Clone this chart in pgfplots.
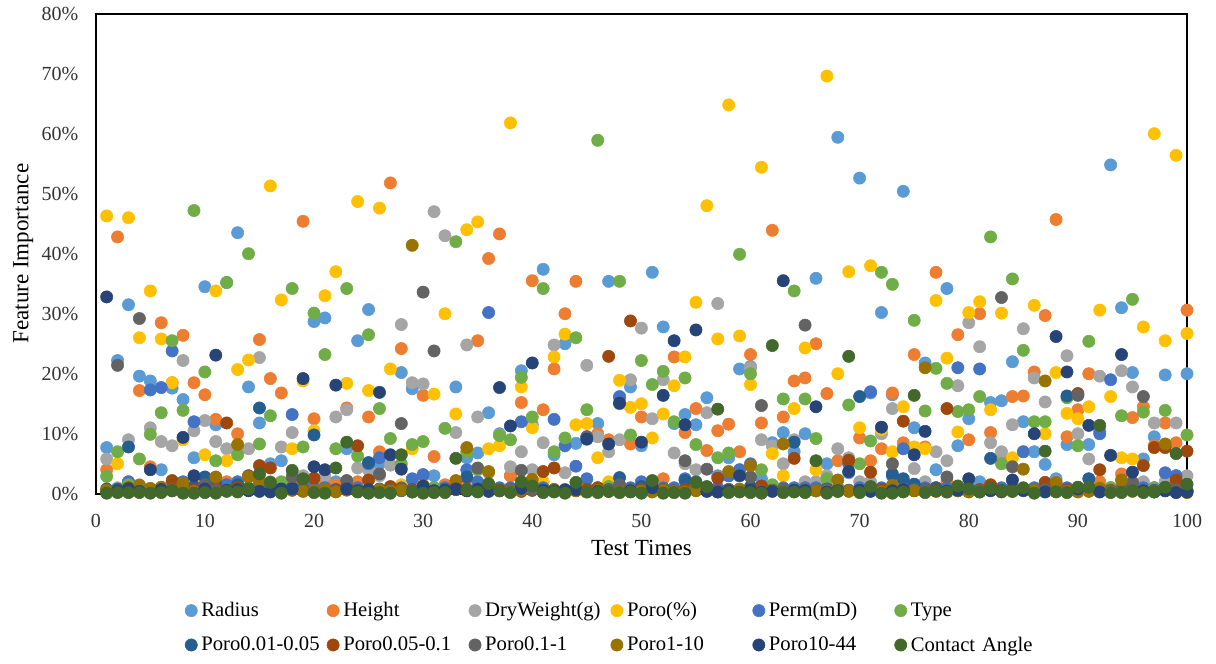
\documentclass[border=0pt]{standalone}
\usepackage{fontspec}
\setmainfont{Liberation Serif}
\usepackage{pgfplots}
\pgfplotsset{compat=1.18}
\definecolor{c1}{HTML}{5B9BD5}
\definecolor{c2}{HTML}{ED7D31}
\definecolor{c3}{HTML}{A5A5A5}
\definecolor{c4}{HTML}{FFC000}
\definecolor{c5}{HTML}{4472C4}
\definecolor{c6}{HTML}{70AD47}
\definecolor{c7}{HTML}{255E91}
\definecolor{c8}{HTML}{9E480E}
\definecolor{c9}{HTML}{636363}
\definecolor{c10}{HTML}{997300}
\definecolor{c11}{HTML}{264478}
\definecolor{c12}{HTML}{43682B}
\pgfplotsset{ser/.style={only marks,mark=*,mark size=4.6pt,mark options={draw=none,fill=#1},color=#1}}
\begin{document}
\begin{tikzpicture}
\path[use as bounding box] (-71.8pt,-127pt) rectangle (840pt,370.25pt);
\begin{axis}[
  at={(0pt,0pt)},anchor=south west,
  scale only axis,width=818.25pt,height=360pt,
  xmin=0,xmax=100,ymin=0,ymax=80,
  xtick={0,10,...,100},ytick={0,10,...,80},
  yticklabel={\pgfmathprintnumber{\tick}\%},
  /pgf/number format/assume math mode=true,
  tick style={draw=none},
  axis line style={black,line width=1.6pt},
  clip=false,
  tick label style={font=\fontsize{15}{16}\selectfont,text=black!80},
  xticklabel style={yshift=-11.5pt},
  yticklabel style={xshift=-9.5pt},
  xlabel={Test Times},ylabel={Feature Importance},
  label style={font=\fontsize{17.3}{19}\selectfont,text=black},
  xlabel style={yshift=-3pt},
  ylabel style={yshift=-0.5pt},
  legend columns=6,
  legend cell align=left,
  legend image code/.code={\draw[#1] plot coordinates {(0pt,0pt)};},
  legend style={at={(67pt,-79.5pt)},anchor=north west,draw=none,fill=none,inner sep=0pt,outer sep=0pt,
    font=\fontsize{15.5}{17}\selectfont,row sep=9.5pt,
    nodes={text width=91.2pt,inner xsep=3pt,inner ysep=2pt,anchor=west}},
]
\addplot[ser=c1] coordinates {(1,7.7)(2,22.2)(3,31.5)(4,19.6)(5,18.8)(6,4)(7,17.6)(8,15.7)(9,6)(10,34.5)(11,11.5)(12,35.2)(13,43.5)(14,17.8)(15,11.8)(16,5)(17,5.5)(18,1.5)(19,0.8)(20,28.7)(21,29.3)(22,2)(23,7.5)(24,25.5)(25,30.7)(26,5)(27,4.8)(28,20.2)(29,17.5)(30,2.9)(31,3)(32,0.5)(33,17.8)(34,6)(35,6.8)(36,13.5)(37,10)(38,3)(39,20.5)(40,11.5)(41,37.4)(42,6.5)(43,25)(44,8.4)(45,9.5)(46,11.7)(47,35.4)(48,16)(49,17.8)(50,8)(51,36.9)(52,27.8)(53,11.7)(54,13.2)(55,11.5)(56,16)(57,3)(58,6)(59,20.8)(60,21.2)(61,2.5)(62,8.5)(63,10.2)(64,7)(65,10)(66,35.9)(67,5)(68,59.4)(69,3.5)(70,52.6)(71,16.8)(72,30.2)(73,16.5)(74,50.4)(75,11)(76,21.8)(77,4)(78,34.2)(79,8)(80,12.5)(81,2)(82,15.2)(83,15.5)(84,22)(85,12)(86,7)(87,4.9)(88,2.5)(89,8.2)(90,16.5)(91,8.2)(92,10.5)(93,54.8)(94,31)(95,20.2)(96,5.8)(97,9.5)(98,19.8)(99,3)(100,20)};
\addlegendentry{Radius}
\addplot[ser=c2] coordinates {(1,4)(2,42.8)(3,2)(4,17.2)(5,4.5)(6,28.5)(7,18.5)(8,26.4)(9,18.5)(10,16.5)(11,12.4)(12,2)(13,10)(14,3)(15,25.7)(16,19.2)(17,16.8)(18,2)(19,45.4)(20,12.5)(21,2)(22,1.5)(23,14.3)(24,2)(25,12.8)(26,7)(27,51.8)(28,24.2)(29,1.5)(30,16.4)(31,6.2)(32,1.5)(33,1.5)(34,2.5)(35,25.5)(36,39.2)(37,43.3)(38,3)(39,15.2)(40,35.5)(41,14)(42,20.8)(43,30)(44,35.4)(45,1)(46,10)(47,9)(48,15)(49,8.3)(50,12.8)(51,1.5)(52,2.5)(53,22.8)(54,10.2)(55,14.2)(56,7.2)(57,10.5)(58,11.6)(59,7)(60,23.2)(61,11.8)(62,43.9)(63,12.8)(64,18.8)(65,19.3)(66,25)(67,16.7)(68,5.5)(69,5.5)(70,9.3)(71,5.5)(72,7.5)(73,16.8)(74,8.5)(75,23.2)(76,7.8)(77,36.9)(78,2)(79,26.5)(80,9)(81,30)(82,10.2)(83,6)(84,16.2)(85,16.3)(86,20.3)(87,29.7)(88,45.7)(89,9.5)(90,14)(91,20)(92,2)(93,1)(94,3.3)(95,12.7)(96,14.5)(97,8)(98,11.8)(99,8.5)(100,30.6)};
\addlegendentry{Height}
\addplot[ser=c3] coordinates {(1,5.8)(2,1)(3,9)(4,1.5)(5,11)(6,8.7)(7,8)(8,22.2)(9,10.5)(10,12.2)(11,8.7)(12,7.5)(13,7)(14,7.5)(15,22.7)(16,2)(17,7.8)(18,10.2)(19,3)(20,1)(21,3)(22,12.8)(23,14)(24,4.3)(25,4)(26,3)(27,4.8)(28,28.2)(29,18.5)(30,18.3)(31,47)(32,43)(33,10.2)(34,24.8)(35,12.8)(36,3.5)(37,9.8)(38,4.5)(39,7)(40,4)(41,8.5)(42,24.8)(43,3.5)(44,1)(45,21.4)(46,9.5)(47,7)(48,9)(49,19)(50,27.6)(51,12.5)(52,19)(53,6.8)(54,5)(55,4)(56,13.5)(57,31.7)(58,3)(59,4)(60,21)(61,9)(62,8)(63,5)(64,9)(65,2)(66,2)(67,3)(68,7.5)(69,6)(70,2)(71,2)(72,10)(73,14.2)(74,2)(75,4.2)(76,2)(77,7)(78,5.5)(79,18)(80,28.5)(81,24.5)(82,8.5)(83,7)(84,11.5)(85,27.5)(86,19.3)(87,15.3)(88,2)(89,23)(90,10)(91,5.8)(92,19.6)(93,1)(94,20.5)(95,17.8)(96,2)(97,11.8)(98,2)(99,11.8)(100,3)};
\addlegendentry{DryWeight(g)}
\addplot[ser=c4] coordinates {(1,46.3)(2,5)(3,46)(4,26)(5,33.8)(6,25.8)(7,18.5)(8,9)(9,2)(10,6.5)(11,33.8)(12,5.5)(13,20.7)(14,22.3)(15,3)(16,51.3)(17,32.3)(18,7.5)(19,18.8)(20,10.5)(21,33)(22,37)(23,18.4)(24,48.7)(25,17.2)(26,47.6)(27,20.8)(28,1.5)(29,7.5)(30,1.5)(31,16.6)(32,30)(33,13.3)(34,44)(35,45.3)(36,7.5)(37,8)(38,61.8)(39,17.8)(40,11)(41,2)(42,22.8)(43,26.6)(44,11.5)(45,11.7)(46,6)(47,2)(48,18.9)(49,14.4)(50,15)(51,9.3)(52,13.3)(53,18)(54,22.8)(55,31.9)(56,48)(57,25.8)(58,64.8)(59,26.3)(60,18.2)(61,54.4)(62,6.7)(63,3)(64,14.2)(65,24.3)(66,4)(67,69.6)(68,20)(69,37)(70,11)(71,38)(72,10.7)(73,7)(74,14.5)(75,7.8)(76,7.5)(77,32.2)(78,22.6)(79,10.3)(80,30.2)(81,32)(82,14)(83,30.1)(84,6)(85,7)(86,31.4)(87,10)(88,20.2)(89,13.4)(90,12.5)(91,14.5)(92,30.6)(93,16.2)(94,6)(95,5.8)(96,27.8)(97,60)(98,25.5)(99,56.4)(100,26.7)};
\addlegendentry{Poro(\%)}
\addplot[ser=c5] coordinates {(1,0.5)(2,0.8)(3,2)(4,1)(5,17.3)(6,17.7)(7,23.8)(8,2)(9,12)(10,1)(11,2)(12,1.5)(13,2)(14,1)(15,1.5)(16,0.5)(17,1)(18,13.2)(19,2)(20,1)(21,1)(22,0.5)(23,1)(24,1)(25,5)(26,6)(27,1)(28,1)(29,2.5)(30,3.2)(31,1)(32,1)(33,1)(34,4)(35,2)(36,30.2)(37,1)(38,1)(39,12)(40,1.5)(41,1)(42,12.4)(43,8)(44,4.6)(45,2.5)(46,1)(47,1)(48,16.2)(49,1)(50,2)(51,1)(52,1)(53,1)(54,2.5)(55,2)(56,1)(57,1)(58,3)(59,4)(60,5)(61,1)(62,0.5)(63,1)(64,1)(65,1)(66,1)(67,1)(68,1)(69,5)(70,1)(71,17)(72,1)(73,3)(74,7.5)(75,1)(76,1)(77,1)(78,1)(79,21)(80,1)(81,20.8)(82,1)(83,1)(84,1)(85,7)(86,1)(87,1)(88,1)(89,1)(90,1)(91,1)(92,10)(93,19)(94,1)(95,1)(96,1)(97,1)(98,3.5)(99,3)(100,0.5)};
\addlegendentry{Perm(mD)}
\addplot[ser=c6] coordinates {(1,2.9)(2,7)(3,1.5)(4,5.8)(5,9.9)(6,13.5)(7,25.5)(8,13.9)(9,47.2)(10,20.3)(11,5.5)(12,35.2)(13,6.5)(14,40)(15,8.3)(16,13)(17,2)(18,34.2)(19,7.8)(20,30.1)(21,23.2)(22,7.5)(23,34.2)(24,6.3)(25,26.5)(26,14.2)(27,9.2)(28,5)(29,8.2)(30,8.7)(31,1)(32,10.9)(33,42)(34,7)(35,4)(36,1.5)(37,9.7)(38,9)(39,19.4)(40,12.8)(41,34.2)(42,7)(43,9.3)(44,26)(45,14)(46,58.9)(47,1.2)(48,35.4)(49,9.8)(50,22.2)(51,18.2)(52,20.4)(53,12)(54,19.3)(55,8.2)(56,1)(57,6)(58,6.8)(59,39.9)(60,20)(61,4)(62,1.5)(63,15.8)(64,33.8)(65,15.8)(66,9.2)(67,2.5)(68,1)(69,14.8)(70,5)(71,8.8)(72,36.9)(73,34.9)(74,2)(75,28.9)(76,13.8)(77,20.9)(78,18.4)(79,13.7)(80,14)(81,16.2)(82,42.8)(83,5)(84,35.8)(85,23.9)(86,12)(87,12)(88,1)(89,16)(90,8)(91,25.4)(92,1)(93,1)(94,13)(95,32.4)(96,13.6)(97,1)(98,13.9)(99,1)(100,9.8)};
\addlegendentry{Type}
\addplot[ser=c7] coordinates {(1,0.8)(2,0.7)(3,7.8)(4,0.5)(5,0.6)(6,0.4)(7,0.8)(8,0.6)(9,1.2)(10,2.8)(11,1.5)(12,0.6)(13,1.5)(14,0.8)(15,14.3)(16,0.6)(17,0.7)(18,1)(19,0.6)(20,9.8)(21,0.5)(22,0.7)(23,0.8)(24,0.5)(25,5.2)(26,0.8)(27,0.6)(28,0.5)(29,0.7)(30,1)(31,0.5)(32,0.6)(33,0.7)(34,2.8)(35,0.8)(36,0.5)(37,0.6)(38,0.7)(39,1.4)(40,0.6)(41,0.5)(42,0.7)(43,0.6)(44,0.8)(45,0.5)(46,0.6)(47,0.7)(48,2.7)(49,0.5)(50,1.2)(51,0.6)(52,0.7)(53,0.5)(54,2.2)(55,0.6)(56,1)(57,0.5)(58,0.7)(59,0.6)(60,1.2)(61,0.5)(62,0.6)(63,0.7)(64,8.6)(65,0.6)(66,0.5)(67,0.8)(68,0.6)(69,0.5)(70,16.2)(71,0.6)(72,0.7)(73,3.3)(74,2.5)(75,1.6)(76,0.6)(77,1)(78,0.5)(79,0.6)(80,0.7)(81,0.5)(82,5.9)(83,0.6)(84,0.7)(85,0.5)(86,0.6)(87,0.7)(88,0.5)(89,16.3)(90,0.6)(91,2.5)(92,0.7)(93,0.5)(94,0.6)(95,0.7)(96,0.5)(97,0.6)(98,0.5)(99,0.7)(100,0.4)};
\addlegendentry{Poro0.01-0.05}
\addplot[ser=c8] coordinates {(1,0.5)(2,0.4)(3,1)(4,0.6)(5,0.3)(6,0.6)(7,2.2)(8,0.5)(9,0.6)(10,0.4)(11,0.9)(12,11.8)(13,1)(14,0.7)(15,4.7)(16,4.3)(17,0.5)(18,0.6)(19,0.7)(20,2.6)(21,0.5)(22,0.6)(23,1.2)(24,8)(25,2.3)(26,0.6)(27,1.2)(28,0.8)(29,0.5)(30,0.6)(31,0.4)(32,0.7)(33,1)(34,0.8)(35,0.5)(36,0.6)(37,0.7)(38,0.5)(39,0.4)(40,0.6)(41,3.7)(42,4.3)(43,0.6)(44,0.5)(45,0.7)(46,1)(47,22.9)(48,0.6)(49,28.8)(50,0.7)(51,0.5)(52,0.6)(53,0.4)(54,0.7)(55,0.6)(56,0.5)(57,2.6)(58,0.7)(59,0.5)(60,0.6)(61,1.3)(62,0.5)(63,0.7)(64,5.9)(65,0.6)(66,0.5)(67,0.7)(68,0.6)(69,5.6)(70,0.5)(71,3.6)(72,0.7)(73,0.6)(74,12.1)(75,0.5)(76,0.7)(77,0.6)(78,14.2)(79,0.5)(80,0.6)(81,0.7)(82,1.5)(83,0.5)(84,0.6)(85,0.7)(86,0.5)(87,1.9)(88,0.6)(89,0.7)(90,16.7)(91,0.5)(92,4)(93,0.6)(94,0.7)(95,0.5)(96,4.7)(97,7.7)(98,7.7)(99,2.3)(100,7.1)};
\addlegendentry{Poro0.05-0.1}
\addplot[ser=c9] coordinates {(1,0.4)(2,21.4)(3,0.5)(4,29.2)(5,0.6)(6,0.4)(7,0.7)(8,0.5)(9,0.4)(10,1.5)(11,0.6)(12,0.5)(13,0.7)(14,3)(15,0.5)(16,1.5)(17,0.6)(18,2.8)(19,0.5)(20,0.4)(21,0.6)(22,0.5)(23,2.2)(24,0.6)(25,0.5)(26,3.3)(27,0.6)(28,11.7)(29,0.5)(30,33.6)(31,23.8)(32,0.6)(33,0.7)(34,0.5)(35,4.3)(36,0.6)(37,0.5)(38,0.7)(39,3.9)(40,0.6)(41,0.4)(42,0.5)(43,0.7)(44,0.6)(45,9.5)(46,0.5)(47,0.6)(48,1.5)(49,0.7)(50,0.5)(51,0.6)(52,0.4)(53,0.5)(54,5.5)(55,0.6)(56,4.1)(57,0.5)(58,0.7)(59,0.6)(60,2.8)(61,14.7)(62,0.5)(63,0.7)(64,0.6)(65,28.1)(66,0.5)(67,0.7)(68,0.4)(69,0.6)(70,0.5)(71,0.6)(72,0.4)(73,5)(74,0.5)(75,0.7)(76,0.6)(77,0.5)(78,2.8)(79,0.6)(80,0.4)(81,0.5)(82,0.7)(83,32.7)(84,4.5)(85,0.6)(86,0.5)(87,0.7)(88,0.6)(89,0.5)(90,16.4)(91,0.7)(92,0.6)(93,0.5)(94,0.7)(95,1.9)(96,16.2)(97,0.5)(98,0.6)(99,0.7)(100,0.5)};
\addlegendentry{Poro0.1-1}
\addplot[ser=c10] coordinates {(1,0.6)(2,0.5)(3,0.3)(4,1.4)(5,0.9)(6,1.1)(7,0.6)(8,1.7)(9,0.4)(10,0.6)(11,2.8)(12,0.7)(13,8.2)(14,2.8)(15,2.2)(16,0.5)(17,0.3)(18,0.6)(19,0.4)(20,0.5)(21,0.7)(22,0.3)(23,0.6)(24,0.4)(25,0.5)(26,0.7)(27,0.4)(28,0.6)(29,41.4)(30,0.5)(31,0.4)(32,0.6)(33,2.2)(34,7.7)(35,0.4)(36,3.7)(37,0.5)(38,0.3)(39,0.6)(40,2.4)(41,0.4)(42,0.7)(43,0.3)(44,0.5)(45,0.3)(46,0.6)(47,0.4)(48,0.3)(49,0.5)(50,0.4)(51,0.3)(52,0.6)(53,0.4)(54,0.3)(55,0.5)(56,0.7)(57,0.3)(58,3.7)(59,0.8)(60,4.7)(61,0.4)(62,0.5)(63,8.3)(64,0.6)(65,0.3)(66,0.5)(67,0.4)(68,2.3)(69,0.4)(70,0.3)(71,0.5)(72,0.3)(73,1.4)(74,0.8)(75,0.5)(76,21)(77,0.4)(78,0.3)(79,0.5)(80,0.3)(81,0.4)(82,0.6)(83,0.3)(84,0.4)(85,4.1)(86,0.6)(87,18.8)(88,1.9)(89,0.4)(90,0.3)(91,0.4)(92,0.9)(93,0.3)(94,2.3)(95,0.4)(96,0.5)(97,0.4)(98,8.3)(99,0.3)(100,0.2)};
\addlegendentry{Poro1-10}
\addplot[ser=c11] coordinates {(1,32.8)(2,0.5)(3,0.8)(4,0.4)(5,4)(6,0.7)(7,0.5)(8,9.4)(9,3)(10,0.8)(11,23.1)(12,0.6)(13,0.7)(14,0.5)(15,0.4)(16,0.3)(17,0.8)(18,0.8)(19,19.2)(20,4.5)(21,4)(22,18.1)(23,0.8)(24,0.5)(25,0.7)(26,16.9)(27,6.5)(28,4.1)(29,0.3)(30,1.3)(31,0.5)(32,0.6)(33,0.8)(34,0.5)(35,0.7)(36,0.4)(37,17.7)(38,11.3)(39,0.9)(40,21.8)(41,0.6)(42,0.5)(43,0.6)(44,0.7)(45,9.1)(46,0.4)(47,8.3)(48,15.1)(49,0.5)(50,8.6)(51,1)(52,16.4)(53,25.5)(54,11.5)(55,27.3)(56,0.4)(57,0.3)(58,0.5)(59,3)(60,0.6)(61,0.3)(62,0.4)(63,35.5)(64,0.6)(65,0.5)(66,14.5)(67,0.3)(68,0.5)(69,3.7)(70,0.6)(71,0.4)(72,11.1)(73,0.5)(74,0.7)(75,6.5)(76,10.4)(77,0.5)(78,0.4)(79,0.6)(80,2.5)(81,0.3)(82,0.5)(83,0.4)(84,2.3)(85,0.6)(86,10)(87,0.3)(88,26.2)(89,20.3)(90,0.8)(91,11.4)(92,0.3)(93,6.4)(94,23.2)(95,3.6)(96,0.5)(97,0.3)(98,0.5)(99,0.2)(100,0.3)};
\addlegendentry{Poro10-44}
\addplot[ser=c12] coordinates {(1,0.1)(2,0.2)(3,0.2)(4,0.2)(5,0.1)(6,0.2)(7,0.5)(8,0.1)(9,0.1)(10,0.2)(11,0.1)(12,0.4)(13,0.3)(14,0.8)(15,3.3)(16,1.9)(17,0.1)(18,3.9)(19,2.5)(20,0.2)(21,0.1)(22,4.3)(23,8.6)(24,0.3)(25,0.1)(26,0.2)(27,0.1)(28,6.5)(29,0.3)(30,0.1)(31,0.2)(32,0.2)(33,5.9)(34,0.6)(35,0.3)(36,1.7)(37,0.5)(38,0.2)(39,2)(40,1.3)(41,0.2)(42,0.3)(43,0.1)(44,1.9)(45,0.3)(46,0.2)(47,0.4)(48,0.2)(49,0.3)(50,0.1)(51,2.2)(52,0.1)(53,0.2)(54,0.1)(55,1.9)(56,1.2)(57,14.1)(58,0.2)(59,0.3)(60,0.2)(61,0.1)(62,24.7)(63,0.2)(64,0.3)(65,0.2)(66,5.5)(67,0.1)(68,0.4)(69,22.9)(70,0.2)(71,1.2)(72,0.1)(73,0.1)(74,0.3)(75,16.4)(76,0.2)(77,0.5)(78,0.3)(79,1.3)(80,0.8)(81,0.3)(82,0.9)(83,0.5)(84,0.4)(85,1)(86,0.1)(87,7.1)(88,0.3)(89,0.2)(90,1.1)(91,1.1)(92,11.4)(93,0.2)(94,0.2)(95,0.5)(96,0.2)(97,0.3)(98,1.1)(99,6.7)(100,1.6)};
\addlegendentry{\mbox{Contact Angle}}
\end{axis}
\end{tikzpicture}
\end{document}
